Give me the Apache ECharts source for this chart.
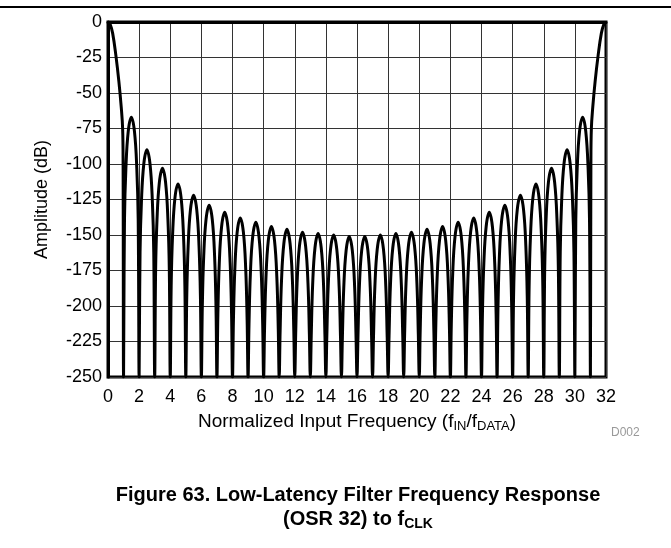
<!DOCTYPE html>
<html>
<head>
<meta charset="utf-8">
<script src="https://cdn.jsdelivr.net/npm/echarts@6/dist/echarts.min.js"></script>
<style>
  html, body { margin: 0; padding: 0; background: #fff; }
  #chart { width: 671px; height: 548px; }
</style>
</head>
<body>
<div id="chart"></div>
<script>
// main lobe (0..1), mirrored at 31..32
var mainLobeX = [0, 0.15, 0.3, 0.5, 0.7, 0.85, 0.94, 0.97];
var mainLobeDb = [0, -2, -8, -23, -42, -60, -75, -100];
var nullDb = -250;
// sample positions inside each side lobe (k .. k+1)
var sideX = [0.06, 0.15, 0.3, 0.5, 0.7, 0.85, 0.94];
var sideLobesDb = [
  [-139, -103, -77, -67, -77, -103, -139],
  [-162, -126, -100, -90, -100, -126, -162],
  [-175, -139, -113, -103, -113, -139, -175],
  [-186, -150, -124, -114, -124, -150, -186],
  [-194, -158, -132, -122, -132, -158, -194],
  [-201, -165, -139, -129, -139, -165, -201],
  [-206, -170, -144, -134, -144, -170, -206],
  [-210, -174, -148, -138, -148, -174, -210],
  [-213, -177, -151, -141, -151, -177, -213],
  [-216, -180, -154, -144, -154, -180, -216],
  [-218, -182, -156, -146, -156, -182, -218],
  [-220, -184, -158, -148, -158, -184, -220],
  [-221, -185, -159, -149, -159, -185, -221],
  [-222, -186, -160, -150, -160, -186, -222],
  [-223, -187, -161, -151, -161, -187, -223],
  [-223, -187, -161, -151, -161, -187, -223],
  [-222, -186, -160, -150, -160, -186, -222],
  [-221, -185, -159, -149, -159, -185, -221],
  [-220, -184, -158, -148, -158, -184, -220],
  [-218, -182, -156, -146, -156, -182, -218],
  [-216, -180, -154, -144, -154, -180, -216],
  [-213, -177, -151, -141, -151, -177, -213],
  [-210, -174, -148, -138, -148, -174, -210],
  [-206, -170, -144, -134, -144, -170, -206],
  [-201, -165, -139, -129, -139, -165, -201],
  [-194, -158, -132, -122, -132, -158, -194],
  [-186, -150, -124, -114, -124, -150, -186],
  [-175, -139, -113, -103, -113, -139, -175],
  [-162, -126, -100, -90, -100, -126, -162],
  [-139, -103, -77, -67, -77, -103, -139]
];

var pts = [];
for (var i = 0; i < mainLobeX.length; i++) pts.push([mainLobeX[i], mainLobeDb[i]]);
for (var k = 1; k <= 31; k++) {
  pts.push([k, nullDb]);
  if (k <= sideLobesDb.length) {
    for (var j = 0; j < sideX.length; j++) pts.push([k + sideX[j], sideLobesDb[k - 1][j]]);
  }
}
for (var i = mainLobeX.length - 1; i >= 0; i--) pts.push([32 - mainLobeX[i], mainLobeDb[i]]);

var font = '"Liberation Sans", Arial, sans-serif';
var chart = echarts.init(document.getElementById('chart'));
var option = {
  animation: false,
  textStyle: { fontFamily: font },
  grid: {
    left: 108, right: 65, top: 22, bottom: 171,
    show: true, borderColor: '#000', borderWidth: 3
  },
  xAxis: {
    type: 'value', min: 0, max: 32, interval: 2,
    axisLine: { lineStyle: { color: '#000', width: 3 } },
    axisTick: { show: false },
    axisLabel: { color: '#000', fontSize: 18, margin: 11 },
    splitLine: { lineStyle: { color: '#333', width: 1 } },
    name: '{a|Normalized Input Frequency (f}{s|IN}{a|/f}{s|DATA}{a|)}',
    nameLocation: 'middle', nameGap: 34,
    nameTextStyle: {
      rich: {
        a: { fontSize: 19, color: '#000', fontFamily: font, lineHeight: 22 },
        s: { fontSize: 13, color: '#000', fontFamily: font, padding: [9, 0, 0, 0], lineHeight: 22 }
      }
    }
  },
  yAxis: {
    type: 'value', min: -250, max: 0, interval: 25,
    axisLine: { lineStyle: { color: '#000', width: 3 } },
    axisTick: { show: false },
    axisLabel: { color: '#000', fontSize: 18, margin: 6 },
    splitLine: { lineStyle: { color: '#333', width: 1 } },
    name: 'Amplitude (dB)', nameLocation: 'middle', nameGap: 57, nameRotate: 90,
    nameTextStyle: { color: '#000', fontSize: 18 }
  },
  series: [{
    type: 'line', data: pts, showSymbol: false, smooth: 0.4,
    lineStyle: { color: '#000', width: 3 }, clip: true
  }],
  graphic: [
    { type: 'rect', shape: { x: 0, y: 6, width: 671, height: 2 }, style: { fill: '#000' } },
    { type: 'text', left: 611, top: 427, style: { text: 'D002', fill: '#999', font: '12px ' + font } },
    { type: 'text', x: 358, y: 485, style: { text: 'Figure 63. Low-Latency Filter Frequency Response', fill: '#000', font: 'bold 20px ' + font, textAlign: 'center' } },
    { type: 'text', x: 358, y: 507, style: {
        text: '{b|(OSR 32) to f}{s|CLK}', textAlign: 'center',
        rich: {
          b: { fill: '#000', font: 'bold 20px ' + font, lineHeight: 24 },
          s: { fill: '#000', font: 'bold 14px ' + font, padding: [10, 0, 0, 0], lineHeight: 24 }
        }
      } }
  ]
};
chart.setOption(option);
</script>
</body>
</html>
